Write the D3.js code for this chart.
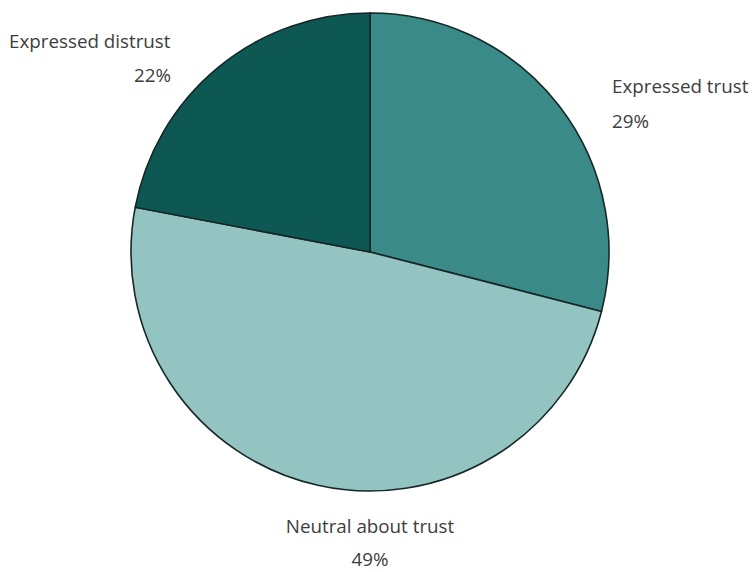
<!DOCTYPE html>
<html>
<head>
<meta charset="utf-8">
<script src="https://cdn.jsdelivr.net/npm/d3@7/dist/d3.min.js"></script>
<style>
  html, body { margin: 0; padding: 0; background: #ffffff; }
  svg { display: block; }
  text { font-family: "Open Sans", "Noto Sans", sans-serif; fill: #3d3d3d; }
</style>
</head>
<body>
<svg id="chart" width="752" height="572"></svg>
<script>
// Survey shares, clockwise from twelve o'clock
const categories = ["Expressed trust", "Neutral about trust", "Expressed distrust"];
const values = [29, 49, 22];
const colors = ["#3a8b88", "#94c4c2", "#0e5853"];

const svg = d3.select("#chart");
const cx = 370, cy = 252, radius = 239;

const pie = d3.pie().sort(null).value(d => d.value);
const arc = d3.arc().innerRadius(0).outerRadius(radius);

const data = categories.map((c, i) => ({ name: c, value: values[i], color: colors[i] }));

const g = svg.append("g").attr("transform", `translate(${cx},${cy})`);

g.selectAll("path")
  .data(pie(data))
  .join("path")
  .attr("d", arc)
  .attr("fill", d => d.data.color)
  .attr("stroke", "#172727")
  .attr("stroke-width", 1.6)
  .attr("stroke-linejoin", "round");

// Label placement for each slice: name line and percentage line
const labelPos = [
  { x: 612, y1: 93, y2: 128, anchor: "start", anchor2: "start", x2: 612 },
  { x: 370, y1: 533, y2: 566, anchor: "middle", anchor2: "middle", x2: 370 },
  { x: 9, y1: 48, y2: 82, anchor: "start", anchor2: "end", x2: 171 }
];

data.forEach((d, i) => {
  const p = labelPos[i];
  svg.append("text")
    .attr("x", p.x).attr("y", p.y1)
    .attr("text-anchor", p.anchor)
    .attr("font-size", 18.8)
    .text(d.name);
  svg.append("text")
    .attr("x", p.x2).attr("y", p.y2)
    .attr("text-anchor", p.anchor2)
    .attr("font-size", 18.8)
    .text(d.value + "%");
});
</script>
</body>
</html>
